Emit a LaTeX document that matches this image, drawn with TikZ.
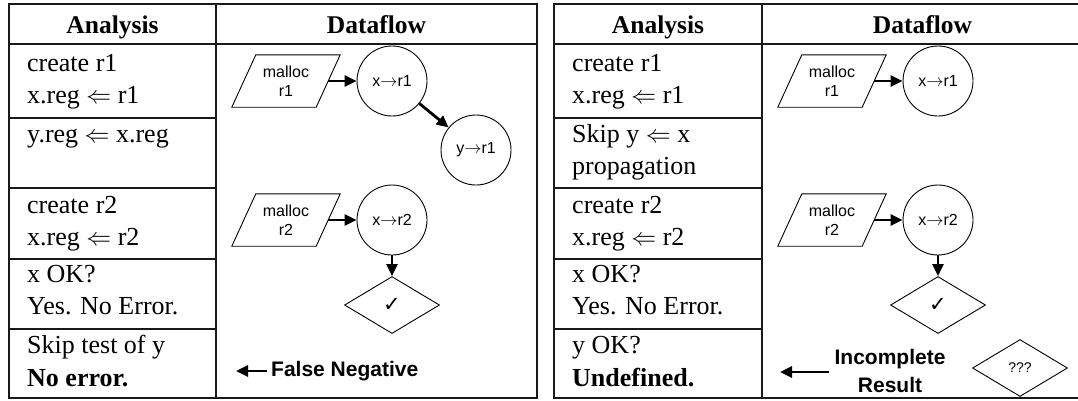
\documentclass[tikz,border=0pt]{standalone}
\usepackage{fontspec}
\setmainfont{Liberation Serif}
\newfontfamily\sansf{Liberation Sans}
\newfontfamily\djv{DejaVu Sans}
\usetikzlibrary{arrows.meta,shapes.geometric}
\begin{document}
\begin{tikzpicture}[x=1pt,y=-1pt,
  tbl/.style={line width=1.4pt, draw=black!90},
  hdrline/.style={line width=2.6pt, draw=black!90},
  ana/.style={anchor=base west, inner sep=0pt, font=\fontsize{26}{30}\selectfont},
  head/.style={anchor=base, inner sep=0pt, font=\fontsize{25.5}{30}\selectfont\bfseries},
  para/.style={minimum width=84pt, minimum height=52pt, inner sep=0pt, align=center, font=\sansf\fontsize{16}{19}\selectfont},
  paraline/.style={line width=0.9pt},
  circ/.style={circle, draw, line width=0.9pt, minimum size=70pt, inner sep=0pt, font=\sansf\fontsize{16}{19}\selectfont},
  dia/.style={diamond, draw, line width=0.9pt, minimum width=95pt, minimum height=57pt, inner sep=0pt},
  flow/.style={-{Triangle[length=12pt,width=11pt]}, line width=2.8pt},
  note/.style={font=\sansf\bfseries\fontsize{21}{28}\selectfont, align=center, inner sep=0pt}
]
\useasboundingbox (0,0) rectangle (1078,400);

% ---------- tables ----------
\foreach \L/\D/\R in {9/216/537, 554/762/1083}{
  \draw[tbl] (\L,4) rectangle (\R,398);
  \draw[tbl] (\D,4) -- (\D,398);
  \draw[hdrline] (\L,44) -- (\R,44);
  \foreach \yy in {118,188,259,329}{ \draw[tbl] (\L,\yy) -- (\D,\yy); }
}

% ---------- headers ----------
\node[head] (hA1) at (112.5,33) {Analysis};
\node[head] (hD1) at (376.5,33) {Dataflow};
\node[head] (hA2) at (658,33) {Analysis};
\node[head] (hD2) at (922.5,33) {Dataflow};

% ---------- left analysis text ----------
\node[ana] (l1a) at (27,71) {create r1};
\node[ana] (l1b) at (27,103) {x.reg $\Leftarrow$ r1};
\node[ana] (l2a) at (27,142) {y.reg $\Leftarrow$ x.reg};
\node[ana] (l3a) at (27,213) {create r2};
\node[ana] (l3b) at (27,245) {x.reg $\Leftarrow$ r2};
\node[ana] (l4a) at (27,282) {x OK?};
\node[ana] (l4b) at (27,314) {Yes. No Error.};
\node[ana] (l5a) at (27,353) {Skip test of y};
\node[ana] (l5b) at (27,386) {\bfseries No error.};

% ---------- right analysis text ----------
\node[ana] (r1a) at (572,71) {create r1};
\node[ana] (r1b) at (572,103) {x.reg $\Leftarrow$ r1};
\node[ana] (r2a) at (572,142) {Skip y $\Leftarrow$ x};
\node[ana] (r2b) at (572,174) {propagation};
\node[ana] (r3a) at (572,213) {create r2};
\node[ana] (r3b) at (572,245) {x.reg $\Leftarrow$ r2};
\node[ana] (r4a) at (572,282) {x OK?};
\node[ana] (r4b) at (572,314) {Yes. No Error.};
\node[ana] (r5a) at (572,353) {y OK?};
\node[ana] (r5b) at (572,386) {\bfseries Undefined.};

% ---------- left dataflow ----------
\node[para] (p1) at (286,81) {malloc\\r1};
\node[para] (p2) at (286,220) {malloc\\r2};
\foreach \p in {p1,p2}{
  \draw[paraline] ([xshift=-12pt]\p.south west) -- ([xshift=12pt]\p.north west)
    -- ([xshift=12pt]\p.north east) -- ([xshift=-12pt]\p.south east) -- cycle;
}
\node[circ] (c1) at (392,81) {x$\rightarrow$r1};
\node[circ] (c2) at (476,150) {y$\rightarrow$r1};
\node[circ] (c3) at (392,220) {x$\rightarrow$r2};
\node[dia] (d1) at (392,305) {\djv\fontsize{21}{23}\selectfont ✓};
\draw[flow] (p1.east) -- (c1);
\draw[flow] (c1) -- (c2);
\draw[flow] (p2.east) -- (c3);
\draw[flow] (c3.south) -- (d1.north);
\node[note, anchor=west] (fn) at (271,371) {False Negative};
\coordinate (fnend) at (236,371);
\draw[flow] ([xshift=-4pt]fn.west) -- (fnend);

% ---------- right dataflow ----------
\node[para] (p3) at (832,81) {malloc\\r1};
\node[para] (p4) at (832,220) {malloc\\r2};
\foreach \p in {p3,p4}{
  \draw[paraline] ([xshift=-12pt]\p.south west) -- ([xshift=12pt]\p.north west)
    -- ([xshift=12pt]\p.north east) -- ([xshift=-12pt]\p.south east) -- cycle;
}
\node[circ] (c4) at (938,81) {x$\rightarrow$r1};
\node[circ] (c5) at (938,220) {x$\rightarrow$r2};
\node[dia] (d2) at (938,305) {\djv\fontsize{21}{23}\selectfont ✓};
\node[dia] (d3) at (1020,368) {\sansf\fontsize{14}{16}\selectfont ???};
\draw[flow] (p3.east) -- (c4);
\draw[flow] (p4.east) -- (c5);
\draw[flow] (c5.south) -- (d2.north);
\node[note] (ir) at (890,371) {Incomplete\\Result};
\coordinate (irend) at (780,372);
\draw[flow] ([xshift=-5pt]ir.west |- irend) -- (irend);
\end{tikzpicture}
\end{document}
